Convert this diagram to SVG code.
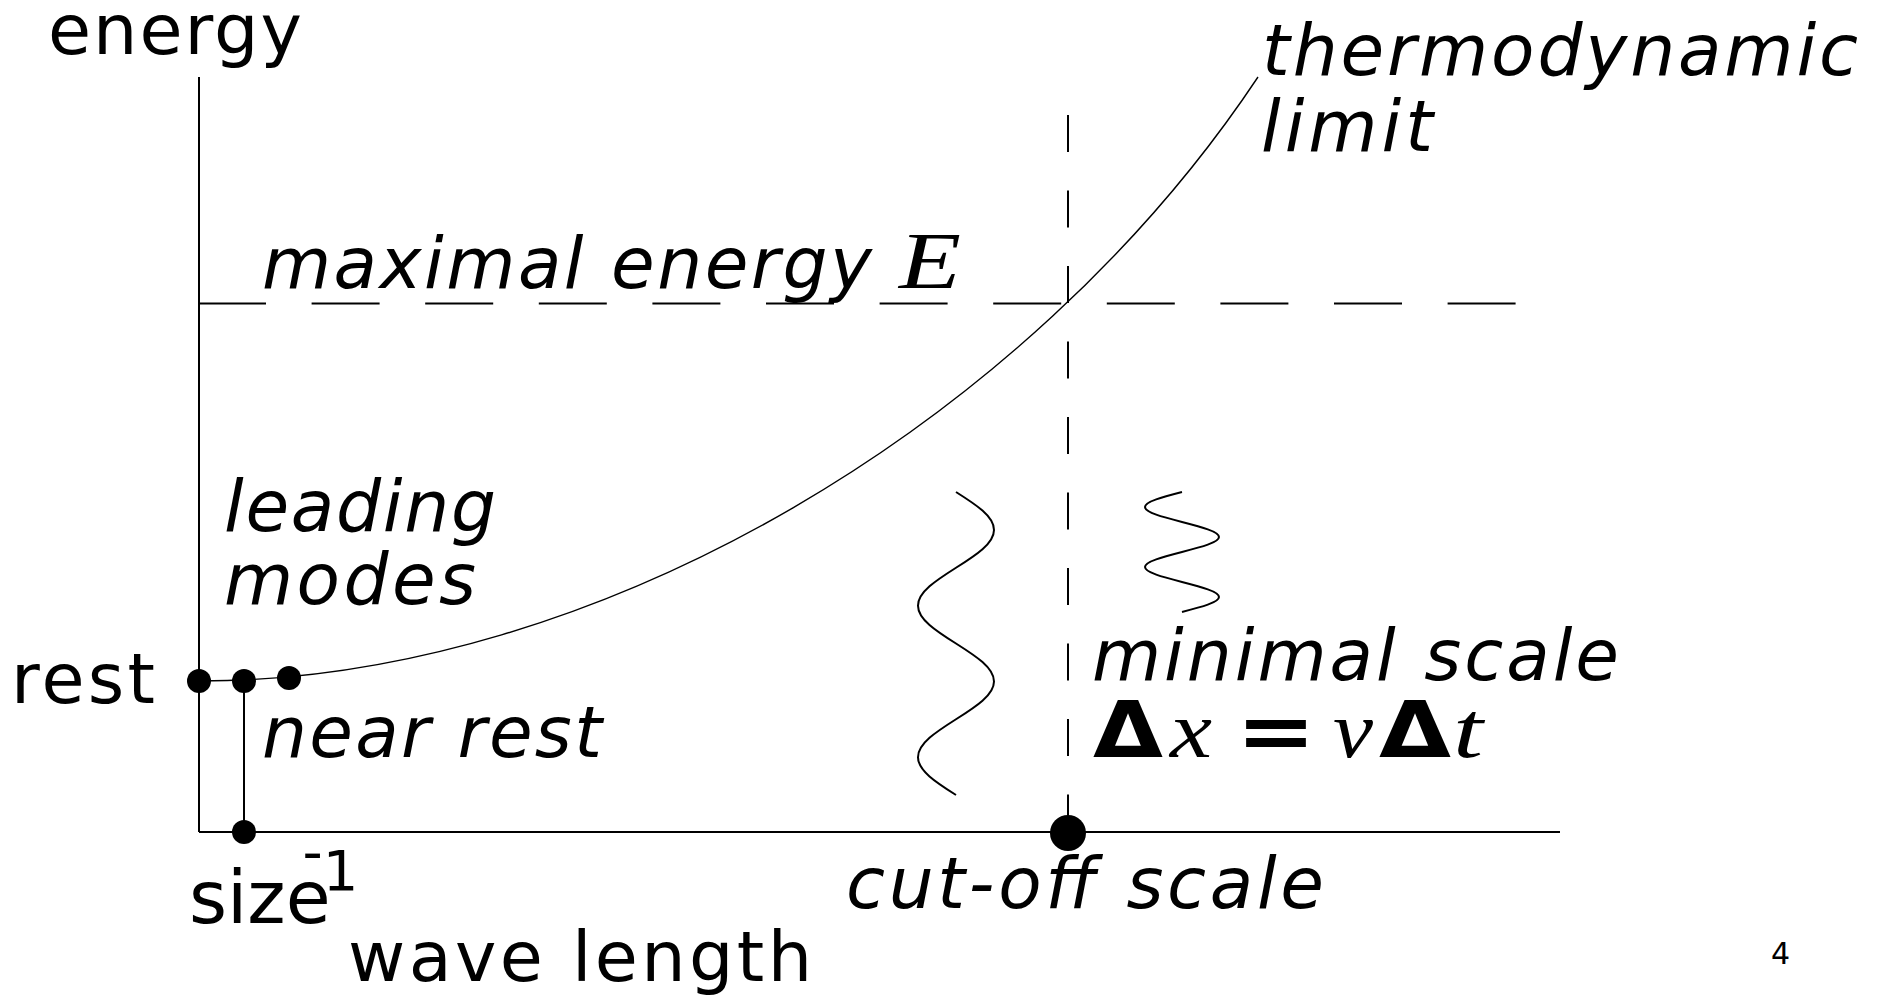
<svg xmlns="http://www.w3.org/2000/svg" width="1883" height="997" viewBox="0 0 1883 997">
<style>
  .up { font-family: "DejaVu Sans", sans-serif; font-size: 70px; fill: #000; }
  .it { font-family: "DejaVu Sans", sans-serif; font-size: 71px; font-style: italic; fill: #000; }
  .mi { font-family: "Liberation Serif", serif; font-size: 80px; font-style: italic; fill: #000; }
  .bd { font-family: "DejaVu Sans", sans-serif; font-size: 78px; font-weight: bold; fill: #000; }
  .axis { stroke: #000; stroke-width: 2; fill: none; }
  .dash { stroke: #000; stroke-width: 2; fill: none; }
  .thin { stroke: #000; stroke-width: 1.4; fill: none; }
  .wave { stroke: #000; stroke-width: 2; fill: none; }
  .dot { fill: #000; }
</style>
<rect x="0" y="0" width="1883" height="997" fill="#fff"/>

<g id="connectors">
  <line id="energy-axis" class="axis" x1="199" y1="77" x2="199" y2="832"/>
  <line id="wavelength-axis" class="axis" x1="199" y1="832" x2="1560" y2="832"/>
  <line id="max-energy-line" class="dash" x1="198" y1="303.5" x2="1516" y2="303.5" stroke-dasharray="68 45.6"/>
  <line id="cutoff-line" class="dash" x1="1068" y1="115" x2="1068" y2="832" stroke-dasharray="37 38.5"/>
  <line id="size-line" class="axis" x1="244" y1="681" x2="244" y2="832"/>
  <path id="dispersion-curve" class="thin" d="M199,681 C600,681 1030,420 1258,77"/>
</g>

<g id="dots">
  <circle id="rest-dot" class="dot" cx="199" cy="681" r="12"/>
  <circle id="near-rest-dot" class="dot" cx="244" cy="681" r="12"/>
  <circle id="leading-dot" class="dot" cx="289" cy="678" r="12"/>
  <circle id="size-dot" class="dot" cx="244" cy="832" r="12"/>
  <circle id="cutoff-dot" class="dot" cx="1068" cy="833" r="18"/>
</g>

<g id="long-wave">
  <path class="wave" d="M956,492 C975.95,504.66 994,516.24 994,529.875 C994,543.5 975.95,555.08 956,567.75 C936.05,580.41 918,591.99 918,605.625 C918,619.25 936.05,630.83 956,643.5 C975.95,656.16 994,667.74 994,681.375 C994,695 975.95,706.58 956,719.25 C936.05,731.91 918,743.49 918,757.125 C918,770.75 936.05,782.33 956,795"/>
</g>
<g id="short-wave">
  <path class="wave" d="M1182,492 C1162.57,497.01 1145,501.6 1145,507 C1145,512.4 1162.57,516.99 1182,522 C1201.43,527.01 1219,531.6 1219,537 C1219,542.4 1201.43,546.99 1182,552 C1162.57,557.01 1145,561.6 1145,567 C1145,572.4 1162.57,576.99 1182,582 C1201.43,587.01 1219,591.6 1219,597 C1219,602.4 1201.43,606.99 1182,612"/>
</g>

<g id="label-energy"><text class="up" x="48" y="54" textLength="254">energy</text></g>
<g id="label-thermo">
  <text class="it" x="1262" y="75" textLength="596">thermodynamic</text>
  <text class="it" x="1261" y="151" textLength="172">limit</text>
</g>
<g id="label-maximal">
  <text class="it" x="262" y="288" textLength="610">maximal energy</text>
  <text class="mi" x="899" y="288" textLength="62" lengthAdjust="spacingAndGlyphs">E</text>
</g>
<g id="label-leading">
  <text class="it" x="224" y="531" textLength="272">leading</text>
  <text class="it" x="224" y="604" textLength="252">modes</text>
</g>
<g id="label-rest"><text class="up" x="11" y="703" textLength="144">rest</text></g>
<g id="label-near-rest"><text class="it" x="262" y="757" textLength="340">near rest</text></g>
<g id="label-minimal">
  <text class="it" x="1092" y="680" textLength="527">minimal scale</text>
  <text class="bd" x="1093" y="757" textLength="70" lengthAdjust="spacingAndGlyphs">Δ</text>
  <text class="mi" x="1170" y="757" textLength="42" lengthAdjust="spacingAndGlyphs">x</text>
  <text class="bd" x="1236" y="758" textLength="80" lengthAdjust="spacingAndGlyphs">=</text>
  <text class="mi" x="1333" y="757" textLength="40" lengthAdjust="spacingAndGlyphs">v</text>
  <text class="bd" x="1379" y="757" textLength="72" lengthAdjust="spacingAndGlyphs">Δ</text>
  <text class="mi" x="1453" y="757" textLength="30" lengthAdjust="spacingAndGlyphs">t</text>
</g>
<g id="label-cutoff"><text class="cutoff it" x="846" y="908" textLength="478">cut-off scale</text></g>
<g id="label-size">
  <text class="up" x="189" y="923" style="font-size:73px">size<tspan dx="-28" dy="-52" style="font-size:56px">-</tspan><tspan dy="19" style="font-size:56px">1</tspan></text>
</g>
<g id="label-wavelength"><text class="up" x="348" y="981" textLength="464">wave length</text></g>
<g id="page-number"><text class="up" x="1771" y="964" style="font-size:30px">4</text></g>
</svg>
